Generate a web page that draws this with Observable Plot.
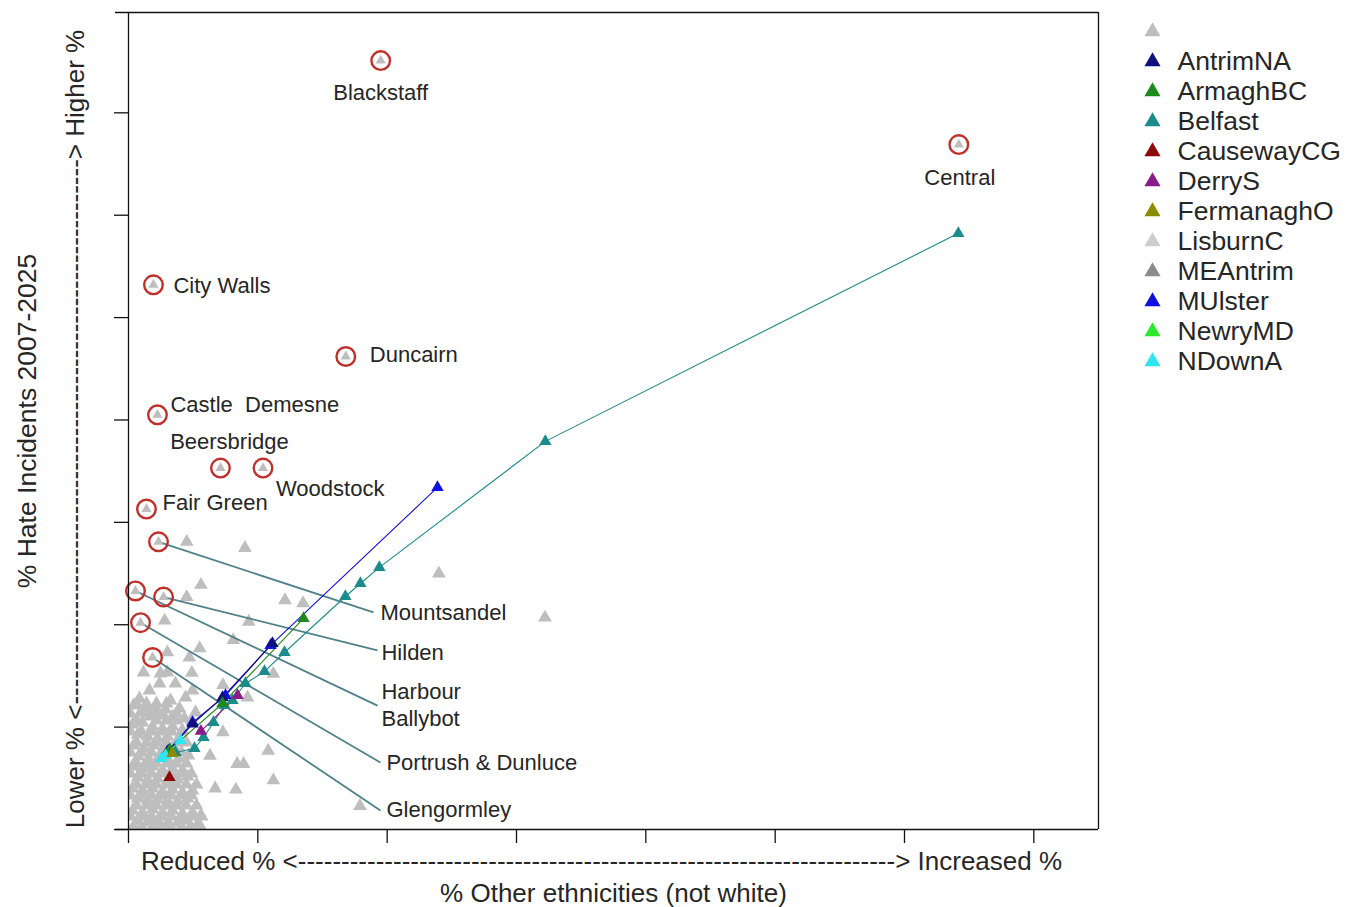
<!DOCTYPE html>
<html><head><meta charset="utf-8">
<script src="https://cdn.jsdelivr.net/npm/d3@7"></script>
<script src="https://cdn.jsdelivr.net/npm/@observablehq/plot@0.6"></script>
<style>
body{margin:0;background:#fff;}
#wrap{position:relative;width:1355px;height:907px;overflow:hidden;}
#legend{position:absolute;left:1128px;top:0;}
</style></head><body><div id="wrap"><div id="chart"></div><div id="legend"></div></div>
<script>
// ---- series (legend) ----
const seriesNames = ["", "AntrimNA", "ArmaghBC", "Belfast", "CausewayCG", "DerryS", "FermanaghO", "LisburnC", "MEAntrim", "MUlster", "NewryMD", "NDownA"];
const seriesColors = ["#bebebe", "#10107f", "#1e8a1e", "#1c8b8b", "#8b0a0a", "#8b1a8b", "#8b8b00", "#cdcdcd", "#8c8c8c", "#1010e0", "#2ee82e", "#30e5f0"];

// ---- unlabeled ticks ----
const xTicks = [0, 10, 20, 30, 40, 50, 60, 70];
const yTicks = [0, 10, 20, 30, 40, 50, 60, 70];

// ---- axis texts ----
const xArrowText = "Reduced % <" + "-".repeat(69) + "> Increased %";
const xTitle = "% Other ethnicities (not white)";
const yArrowText = "Lower % <" + "-".repeat(63) + "> Higher %";
const yTitle = "% Hate Incidents 2007-2025";

// ---- other wards (grey, unlabelled) [x, y] ----
const otherWards = [
  [4.5,28.1],[9.0,27.5],[24.0,25.0],[32.2,20.7],[5.6,23.9],[4.5,22.7],[12.1,22.4],[13.5,22.1],[2.8,20.4],[9.3,20.3],
  [8.1,18.5],[5.5,17.7],[3.0,17.3],[4.7,16.8],[4.9,15.3],[11.2,15.2],[10.8,7.7],[8.4,6.4],[8.9,6.4],[11.2,4.8],
  [6.7,4.0],[8.3,3.9],[5.6,1.4],[6.3,7.2],[7.3,9.5],[17.9,2.3],[9.2,12.9],[7.3,14.1],
  [1.16,15.34],[2.47,15.24],[3.01,15.34],[3.63,14.26],[2.40,14.26],[1.62,13.58],[0.85,12.80],[4.41,12.90],[3.25,12.60],[4.95,13.58],
  [0.39,12.11],[1.31,12.02],[2.09,11.92],[2.86,11.72],[3.94,11.82],[0.93,11.43],[1.70,11.04],[2.63,11.14],[3.40,11.04],[4.33,10.84],[5.18,11.43],
  [0.31,10.26],[1.08,10.45],[1.86,10.06],[2.63,9.87],[3.40,10.06],[4.17,9.67],[0.70,9.28],[1.47,9.09],[2.24,8.89],[3.01,9.09],[3.79,8.70],
  [0.39,8.21],[1.16,7.91],[1.93,8.21],[2.71,7.91],[3.48,8.11],[0.77,7.13],[1.55,6.94],[2.32,7.03],[3.09,6.74],[3.87,6.94],[4.64,7.23],
  [0.31,6.16],[1.08,5.96],[1.86,6.16],[2.63,5.76],[3.40,5.96],[4.17,5.76],[0.70,5.08],[1.47,4.89],[2.24,4.98],[3.01,4.79],[3.79,4.89],[4.56,5.18],
  [0.31,4.01],[1.08,3.81],[1.86,4.01],[2.63,3.71],[3.40,3.91],[4.17,3.61],[4.95,3.81],[0.70,3.03],[1.47,2.83],[2.24,2.93],[3.01,2.83],[3.79,2.74],[4.56,3.03],
  [0.31,1.86],[1.08,1.66],[1.86,1.95],[2.63,1.66],[3.40,1.86],[4.17,1.56],[4.95,1.66],[0.70,0.88],[1.47,0.68],[2.24,0.78],[3.01,0.59],[3.79,0.68],[4.56,0.88],[5.33,0.49],
  [0.39,0.30],[1.86,0.30],[3.25,0.30],[4.79,0.30],
  [0.62,12.31],[1.39,12.31],[2.16,12.31],[2.94,12.31],
  [0.15,11.33],[1.39,11.33],[2.16,11.33],[3.71,11.33],
  [0.62,10.65],[2.16,10.65],[2.94,10.65],[3.71,10.65],[4.87,10.65],
  [0.15,9.57],[1.00,9.57],[1.78,9.57],[2.55,9.57],[3.32,9.57],[4.10,9.57],
  [0.62,8.50],[1.39,8.50],[2.16,8.50],[2.94,8.50],[3.71,8.50],[4.48,8.50],
  [0.15,7.52],[1.00,7.52],[1.78,7.52],[2.55,7.52],[3.32,7.52],[4.10,7.52],
  [0.62,6.45],[1.39,6.45],[2.16,6.45],[2.94,6.45],[3.71,6.45],[4.48,6.45],
  [0.15,5.47],[1.00,5.47],[1.78,5.47],[2.55,5.47],[3.32,5.47],[4.10,5.47],[4.87,5.47],
  [0.62,4.40],[1.39,4.40],[2.16,4.40],[2.94,4.40],[3.71,4.40],[4.48,4.40],[5.26,4.40],
  [0.15,3.32],[1.00,3.32],[1.78,3.32],[2.55,3.32],[3.32,3.32],[4.10,3.32],[4.87,3.32],
  [0.62,2.34],[1.39,2.34],[2.16,2.34],[2.94,2.34],[3.71,2.34],[4.48,2.34],[5.26,2.34],
  [0.15,1.27],[1.00,1.27],[1.78,1.27],[2.55,1.27],[3.32,1.27],[4.10,1.27],[4.87,1.27],[5.64,1.27],
  [1.00,0.29],[2.55,0.29],[4.10,0.29],[5.57,0.29]
];

// ---- highlighted wards ----
const wardNames = ["Blackstaff","Central","City Walls","Duncairn","Castle\u00a0 Demesne","Beersbridge","Woodstock","Fair Green","Mountsandel","Hilden","Harbour\nBallybot","Portrush & Dunluce","Glengormley"];
const wardX = [19.5, 64.2, 1.93, 16.8, 2.24, 7.11, 10.4, 1.39, 2.32, 2.71, 0.54, 0.93, 1.86];
const wardY = [75.1, 66.9, 53.2, 46.2, 40.5, 35.3, 35.3, 31.3, 28.1, 22.7, 23.3, 20.2, 16.8];

// ---- council tracks [x, y] ----
const belfastPts = [[3.63,7.52],[5.10,7.91],[5.80,8.99],[6.57,10.45],[7.42,12.11],[8.04,12.60],[9.04,14.26],[10.51,15.44],[12.06,17.29],[16.77,22.76],[17.93,24.03],[19.40,25.60],[32.23,37.91],[64.16,58.23]];
const mulsterPts = [[3.1,7.7],[4.95,10.45],[7.50,13.09],[10.98,17.98],[23.89,33.41]];
const antrimPts = [[3.0,7.6],[4.95,10.3],[7.27,12.90],[11.13,18.17]];
const armaghPts = [[3.2,7.8],[7.27,12.31],[13.53,20.61]];
const derryPts = [[5.6,9.6],[8.43,13.09]];
const ndownPts = [[2.55,6.94],[2.86,7.23],[4.02,8.70]];
const causewayPts = [[3.17,5.08]];
const fermanaghPts = [[3.40,7.43]];

// ---- layout (label placement, px offsets) ----
const labelLayout = {
  "Blackstaff": [0, 32, "middle"], "Central": [1, 33, "middle"], "City Walls": [20, 1, "start"],
  "Duncairn": [24, -2, "start"], "Castle\u00a0 Demesne": [13, -10, "start"], "Beersbridge": [9, -26, "middle"],
  "Woodstock": [13, 21, "start"], "Fair Green": [16, -6, "start"]
};
const leaderLayout = {
  "Mountsandel": [18.94, 21.2, 7, -1], "Hilden": [19.25, 17.5, 4, 1], "Harbour\nBallybot": [19.25, 12.1, 4, -2],
  "Portrush & Dunluce": [19.48, 6.55, 6, -1], "Glengormley": [19.48, 1.86, 6, -2]
};

// ---- build tables ----
const color = {type: "ordinal", domain: seriesNames, range: seriesColors};
const grayRows = otherWards.map(([x, y]) => ({x, y, series: ""}));
const councils = [
  ["Belfast", belfastPts], ["MUlster", mulsterPts], ["AntrimNA", antrimPts], ["ArmaghBC", armaghPts],
  ["DerryS", derryPts], ["NDownA", ndownPts], ["CausewayCG", causewayPts], ["FermanaghO", fermanaghPts]
];
const councilRows = councils.flatMap(([name, pts]) => pts.map(([x, y]) => ({x, y, series: name})));
const wards = wardNames.map((name, i) => ({name, x: wardX[i], y: wardY[i], series: ""}));
const leaders = wards.filter(w => leaderLayout[w.name]).map(w => ({...w, x2: leaderLayout[w.name][0], y2: leaderLayout[w.name][1]}));

const FONT = "'Liberation Sans', Arial, sans-serif";
const INK = "#262626";

const labelMarks = wards.filter(w => labelLayout[w.name]).map(w => {
  const [dx, dy, anchor] = labelLayout[w.name];
  return Plot.text([w], {x: "x", y: "y", text: "name", dx, dy, textAnchor: anchor, fontSize: 22, fill: INK});
});
const leaderTextMarks = leaders.map(w => {
  const [, , dx, dy] = leaderLayout[w.name];
  return Plot.text([w], {x: "x2", y: "y2", text: "name", dx, dy, textAnchor: "start", fontSize: 22, fill: INK, lineHeight: 1.22});
});

const chart = Plot.plot({
  width: 1355, height: 907,
  marginLeft: 128, marginRight: 257, marginTop: 12, marginBottom: 78,
  x: {domain: [0, 75]},
  y: {domain: [0, 79.8]},
  color,
  style: {fontFamily: FONT, background: "#fff", color: INK},
  marks: [
    Plot.dot(grayRows, {x: "x", y: "y", symbol: "triangle", r: 5.1, fill: "series", clip: true}),
    Plot.link(leaders, {x1: "x", y1: "y", x2: "x2", y2: "y2", stroke: "#4e8189", strokeWidth: 1.8}),
    Plot.line(councilRows, {x: "x", y: "y", z: "series", stroke: "series", strokeWidth: 1.1}),
    Plot.dot(councilRows, {x: "x", y: "y", symbol: "triangle", r: 4.6, fill: "series"}),
    Plot.dot(wards, {x: "x", y: "y", symbol: "triangle", r: 3.8, fill: "series"}),
    Plot.dot(wards, {x: "x", y: "y", r: 9.3, stroke: "#c0302b", strokeWidth: 2.4, fill: "none"}),
    ...labelMarks,
    ...leaderTextMarks,
    Plot.ruleY([0, 79.8], {insetLeft: -13, stroke: "#111", strokeWidth: 1.3}),
    Plot.ruleX([0, 75], {stroke: "#111", strokeWidth: 1.3}),
    Plot.axisX({ticks: xTicks, tickSize: 14, tickFormat: () => "", label: null, strokeWidth: 1.3, stroke: "#111"}),
    Plot.axisY({ticks: yTicks, tickSize: 14, tickFormat: () => "", label: null, strokeWidth: 1.3, stroke: "#111"}),
    Plot.text([xArrowText], {frameAnchor: "bottom", dx: -12, dy: 32, textAnchor: "middle", lineAnchor: "middle", fontSize: 26, fill: INK}),
    Plot.text([xTitle], {frameAnchor: "bottom", dy: 64, textAnchor: "middle", lineAnchor: "middle", fontSize: 26, fill: INK}),
    Plot.text([yArrowText], {frameAnchor: "left", rotate: -90, dx: -53, dy: 8, textAnchor: "middle", lineAnchor: "middle", fontSize: 26, fill: INK}),
    Plot.text([yTitle], {frameAnchor: "left", rotate: -90, dx: -101, textAnchor: "middle", lineAnchor: "middle", fontSize: 26.5, fill: INK})
  ]
});
document.getElementById("chart").append(chart);

const legend = Plot.plot({
  width: 227, height: 380, margin: 0,
  x: {domain: [0, 1], range: [24, 200], axis: null},
  y: {type: "point", domain: seriesNames, range: [27, 364], padding: 0, axis: null},
  color,
  style: {fontFamily: FONT, background: "transparent"},
  marks: [
    Plot.dot(seriesNames, {x: () => 0, y: d => d, symbol: "triangle", r: 6, fill: d => d}),
    Plot.text(seriesNames, {x: () => 0, y: d => d, text: d => d, dx: 25, textAnchor: "start", fontSize: 26.5, fill: INK})
  ]
});
document.getElementById("legend").append(legend);
</script>
</body></html>
